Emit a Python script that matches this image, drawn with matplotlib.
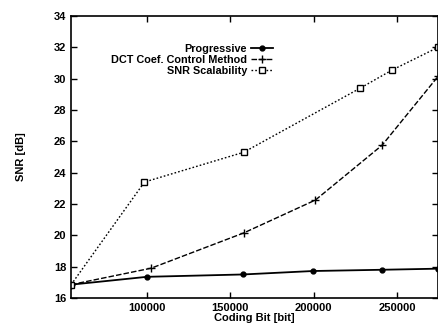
import matplotlib
matplotlib.use('Agg')
import matplotlib.pyplot as plt
from matplotlib.ticker import MultipleLocator

# data
prog_x = [54500, 100000, 157600, 199500, 241000, 274600]
prog_y = [16.85, 17.35, 17.5, 17.72, 17.8, 17.87]

dct_x = [54500, 102500, 158000, 201000, 241000, 274600]
dct_y = [16.85, 17.9, 20.15, 22.25, 25.75, 30.15]

snr_x = [54500, 98500, 158000, 228000, 247000, 274600]
snr_y = [16.85, 23.4, 25.3, 29.4, 30.55, 32.0]

plt.rcParams['font.family'] = ['Liberation Sans', 'DejaVu Sans']
plt.rcParams['font.weight'] = 'bold'

fig = plt.figure(figsize=(4.39, 3.26), dpi=100)
ax = fig.add_axes([0.162, 0.086, 0.836, 0.865])

ax.plot(prog_x, prog_y, color='black', lw=1.3, marker='o', ms=3.5,
        label='Progressive')
ax.plot(dct_x, dct_y, color='black', lw=1.0, ls=(0, (4, 1.5)), marker='+',
        ms=6, mew=1.0, label='DCT Coef. Control Method')
ax.plot(snr_x, snr_y, color='black', lw=1.0, ls=(0, (1.2, 1.5)), marker='s',
        ms=4.5, mfc='white', mew=1.0, label='SNR Scalability')

ax.set_xlim(54500, 274600)
ax.set_ylim(16, 34)
ax.set_xticks([100000, 150000, 200000, 250000])
ax.yaxis.set_major_locator(MultipleLocator(2))
ax.tick_params(direction='in', top=True, right=True, labelsize=8,
               length=4, width=1)
for s in ax.spines.values():
    s.set_linewidth(1.2)

ax.set_xlabel('Coding Bit [bit]', fontsize=8, fontweight='bold', labelpad=0)
ax.set_ylabel('SNR [dB]', fontsize=8, fontweight='bold', labelpad=20)

leg = ax.legend(loc='upper right', bbox_to_anchor=(0.565, 0.92),
                frameon=False, markerfirst=False, fontsize=7.8,
                handlelength=2.0, handletextpad=0.4, labelspacing=0.08,
                borderpad=0)
for t in leg.get_texts():
    t.set_ha('right')
leg._legend_box.align = 'right'

fig.savefig('out.png', dpi=100)
